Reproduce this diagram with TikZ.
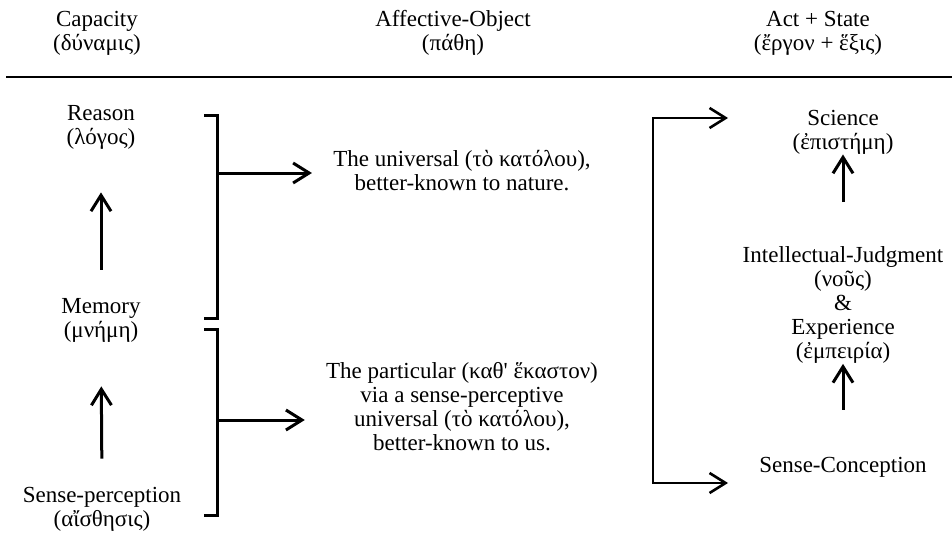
\documentclass[tikz,border=0pt]{standalone}
\usepackage{fontspec}
\setmainfont{Liberation Serif}
\usetikzlibrary{arrows.meta}

\tikzset{
  lbl/.style={align=center, inner sep=0pt, font=\fontsize{11.5}{12}\selectfont},
  arr/.style={-{Straight Barb[length=8pt,width=10pt]}, line width=1.5pt},
  twoarr/.style={{Straight Barb[length=8pt,width=10pt]}-{Straight Barb[length=8pt,width=10pt]}, line width=1.3pt},
  brk/.style={line width=1.5pt},
}

\begin{document}
\begin{tikzpicture}[x=0.5pt,y=-0.5pt]
\useasboundingbox (0,0) rectangle (952,535);

\node[lbl](capacity) at (97,33) {Capacity\\(δύναμις)};
\node[lbl](affective) at (453,33) {Affective-Object\\(πάθη)};
\node[lbl](actstate) at (818,33) {Act + State\\(ἔργον + ἕξις)};
\draw[line width=0.65pt] (6,77) -- (952,77);

\node[lbl](reason) at (101,127) {Reason\\(λόγος)};
\node[lbl](memory) at (101,320) {Memory\\(μνήμη)};
\node[lbl](sense) at (102,509) {Sense-perception\\(αἴσθησις)};
\draw[arr, shorten <=14pt, shorten >=21.5pt] (memory.north) -- (reason.south);
\draw[arr, shorten <=14pt, shorten >=22pt] (sense.north) -- (memory.south);

\node[lbl](universal) at (462,171) {The universal (τὸ κατόλου),\\better-known to nature.};
\node[lbl](particular) at (462,407) {The particular (καθ\textquotesingle{} ἕκαστον)\\via a sense-perceptive\\universal (τὸ κατόλου),\\better-known to us.};

\draw[brk] (204,116) -- (217,116) -- (217,318) -- (204,318);
\draw[brk] (204,329) -- (217,329) -- (217,515) -- (204,515);
\coordinate (br1) at (217,173);
\coordinate (br2) at (217,420);
\draw[arr, shorten >=10.5pt] (br1) -- (br1 -| universal.west);
\draw[arr, shorten >=10.5pt] (br2) -- (br2 -| particular.west);

\node[lbl](science) at (843,132) {Science\\(ἐπιστήμη)};
\node[lbl](intellect) at (843,305) {Intellectual-Judgment\\(νοῦς)\\\&\\Experience\\(ἐμπειρία)};
\node[lbl](conception) at (843,467) {Sense-Conception};
\draw[arr, shorten <=22pt] (intellect.north) -- (science.south);
\draw[arr, shorten <=23.5pt] (conception.north) -- (intellect.south);

\coordinate (rtop) at (653,118);
\coordinate (rbot) at (653,483);
\coordinate (sciin) at (728,118);
\coordinate (conin) at (728,483);
\draw[twoarr] (sciin) -- (rtop) -- (rbot) -- (conin);
\end{tikzpicture}
\end{document}
